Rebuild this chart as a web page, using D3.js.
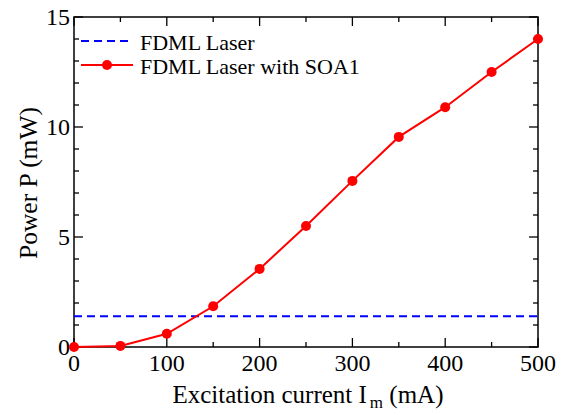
<!DOCTYPE html>
<html>
<head>
<meta charset="utf-8">
<script src="https://cdn.jsdelivr.net/npm/d3@7"></script>
<style>
  body { margin: 0; background: #fff; }
</style>
</head>
<body>
<svg id="chart" width="573" height="415" font-family="'Liberation Serif', 'DejaVu Serif', Times, serif"></svg>
<script>
// Data
var current = [0, 50, 100, 150, 200, 250, 300, 350, 400, 450, 500];   // mA
var powerSOA = [0, 0.05, 0.6, 1.85, 3.55, 5.5, 7.55, 9.55, 10.9, 12.5, 14.0]; // mW
var laserLevel = 1.4; // mW, FDML laser alone
var xTicks = [0, 100, 200, 300, 400, 500];
var yTicks = [0, 5, 10, 15];
var legendNames = ["FDML Laser", "FDML Laser with SOA1"];

var svg = d3.select("#chart");

// plot box
var pLeft = 74, pRight = 538, pTop = 17, pBottom = 347;

var xScale = d3.scaleLinear().domain([0, 500]).range([pLeft, pRight]);
var yScale = d3.scaleLinear().domain([0, 15]).range([pBottom, pTop]);

// Ticks (inward, on all four sides)
var xMinor = d3.range(0, 501, 50);
var yMinor = d3.range(0, 16, 1);
var tickG = svg.append("g").attr("stroke", "#000").attr("stroke-width", 1.3);

xMinor.forEach(function (v) {
    var len = (v % 100 === 0) ? 9 : 5;
    var x = xScale(v);
    tickG.append("line").attr("x1", x).attr("x2", x).attr("y1", pBottom).attr("y2", pBottom - len);
    tickG.append("line").attr("x1", x).attr("x2", x).attr("y1", pTop).attr("y2", pTop + len);
});
yMinor.forEach(function (v) {
    var len = (v % 5 === 0) ? 9 : 5;
    var y = yScale(v);
    tickG.append("line").attr("x1", pLeft).attr("x2", pLeft + len).attr("y1", y).attr("y2", y);
    tickG.append("line").attr("x1", pRight).attr("x2", pRight - len).attr("y1", y).attr("y2", y);
});

// Frame
svg.append("rect")
    .attr("x", pLeft).attr("y", pTop)
    .attr("width", pRight - pLeft).attr("height", pBottom - pTop)
    .attr("fill", "none").attr("stroke", "#000").attr("stroke-width", 1.5);

// Tick labels
svg.selectAll(".xlab").data(xTicks).enter().append("text")
    .attr("class", "xlab")
    .attr("x", function (d) { return xScale(d); })
    .attr("y", 371)
    .attr("text-anchor", "middle")
    .attr("font-size", 24)
    .text(function (d) { return d; });

svg.selectAll(".ylab").data(yTicks).enter().append("text")
    .attr("class", "ylab")
    .attr("x", 70)
    .attr("y", function (d) { return yScale(d) + 8; })
    .attr("text-anchor", "end")
    .attr("font-size", 24)
    .text(function (d) { return d; });

// Axis titles
var xt = svg.append("text")
    .attr("x", 308).attr("y", 403)
    .attr("text-anchor", "middle")
    .attr("font-size", 25);
xt.append("tspan").text("Excitation current I");
xt.append("tspan").attr("font-size", 17).attr("dx", 3).attr("dy", 5).text("m");
xt.append("tspan").attr("dy", -5).text(" (mA)");

svg.append("text")
    .attr("transform", "translate(37,183) rotate(-90)")
    .attr("text-anchor", "middle")
    .attr("font-size", 25.5)
    .text("Power P (mW)");

// FDML laser level (dashed)
svg.append("line")
    .attr("x1", xScale(0)).attr("x2", xScale(500))
    .attr("y1", yScale(laserLevel)).attr("y2", yScale(laserLevel))
    .attr("stroke", "#0000ff").attr("stroke-width", 2)
    .attr("stroke-dasharray", "8,5");

// SOA curve
var line = d3.line()
    .x(function (d, i) { return xScale(current[i]); })
    .y(function (d) { return yScale(d); });

svg.append("path")
    .datum(powerSOA)
    .attr("fill", "none")
    .attr("stroke", "#ff0000")
    .attr("stroke-width", 2)
    .attr("d", line);

svg.selectAll(".pt").data(powerSOA).enter().append("circle")
    .attr("class", "pt")
    .attr("cx", function (d, i) { return xScale(current[i]); })
    .attr("cy", function (d) { return yScale(d); })
    .attr("r", 5)
    .attr("fill", "#ff0000");

// Legend
var lg = svg.append("g");
lg.append("line")
    .attr("x1", 81).attr("x2", 133).attr("y1", 41).attr("y2", 41)
    .attr("stroke", "#0000ff").attr("stroke-width", 2)
    .attr("stroke-dasharray", "8,5");
lg.append("line")
    .attr("x1", 81).attr("x2", 133).attr("y1", 65).attr("y2", 65)
    .attr("stroke", "#ff0000").attr("stroke-width", 2);
lg.append("circle").attr("cx", 107).attr("cy", 65).attr("r", 5).attr("fill", "#ff0000");
lg.selectAll(".lt").data(legendNames).enter().append("text")
    .attr("class", "lt")
    .attr("x", 140)
    .attr("y", function (d, i) { return 50 + i * 24; })
    .attr("font-size", 22)
    .text(function (d) { return d; });
</script>
</body>
</html>
